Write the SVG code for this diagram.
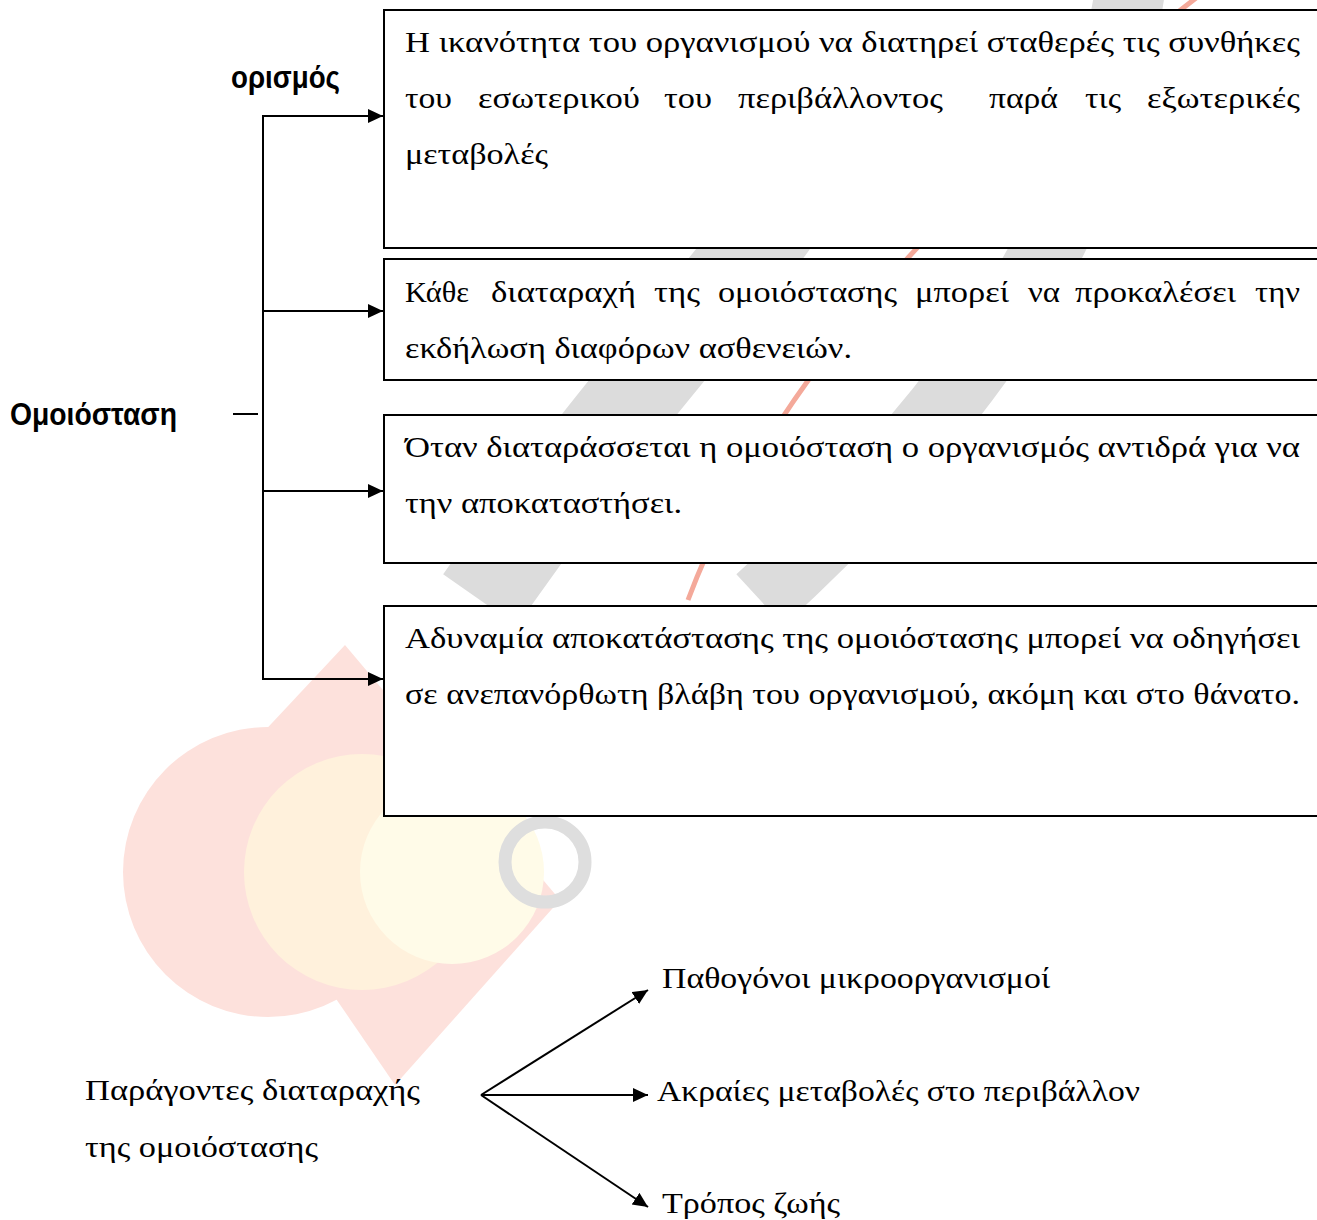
<svg xmlns="http://www.w3.org/2000/svg" width="1317" height="1220" viewBox="0 0 1317 1220">
<style>
.bx{fill:#fff;stroke:#000;stroke-width:2}
.t{font-family:"Liberation Serif","DejaVu Serif",serif;font-size:30px;fill:#000}
.h{font-family:"Liberation Sans","DejaVu Sans",sans-serif;font-size:31px;font-weight:bold;fill:#000}
.c{stroke:#000;stroke-width:2;fill:none}
</style>
<defs>
<marker id="ah" markerUnits="userSpaceOnUse" markerWidth="16" markerHeight="15" refX="15" refY="7" orient="auto">
<path d="M0,0 L15,7 L0,14 z" fill="#000"/>
</marker>
</defs>
<rect width="1317" height="1220" fill="#fff"/>
<g id="watermark">
<circle cx="268" cy="872" r="145" fill="#fde1dc"/>
<polygon points="345,645 560,900 395,1085 200,800" fill="#fde1dc"/>
<circle cx="362" cy="872" r="118" fill="#fff1dc"/>
<circle cx="452" cy="872" r="92" fill="#fffbe8"/>
<circle cx="545" cy="862" r="40" fill="none" stroke="#dedede" stroke-width="13"/>
<path d="M1130,-10 C1100,200 1000,380 760,600" fill="none" stroke="#dcdcdc" stroke-width="70"/>
<path d="M790,200 C720,300 620,400 480,600" fill="none" stroke="#dcdcdc" stroke-width="90"/>
<path d="M1200,-5 Q800,300 688,600" fill="none" stroke="#f4a99a" stroke-width="5"/>
</g>
<g id="connectors">
<line class="c" x1="233" y1="414" x2="258" y2="414"/>
<line class="c" x1="263" y1="115" x2="263" y2="680"/>
<line class="c" x1="262" y1="116" x2="383" y2="116" marker-end="url(#ah)"/>
<line class="c" x1="262" y1="311" x2="383" y2="311" marker-end="url(#ah)"/>
<line class="c" x1="262" y1="491" x2="383" y2="491" marker-end="url(#ah)"/>
<line class="c" x1="262" y1="679" x2="383" y2="679" marker-end="url(#ah)"/>
<line class="c" x1="481" y1="1095" x2="648" y2="990" marker-end="url(#ah)"/>
<line class="c" x1="481" y1="1095" x2="648" y2="1095" marker-end="url(#ah)"/>
<line class="c" x1="481" y1="1095" x2="648" y2="1207" marker-end="url(#ah)"/>
</g>
<g id="node-omoiostasi">
<text class="h" x="10" y="425" textLength="167" lengthAdjust="spacingAndGlyphs">Ομοιόσταση</text>
</g>
<g id="node-orismos">
<text class="h" x="231" y="88" textLength="109" lengthAdjust="spacingAndGlyphs">ορισμός</text>
</g>
<g id="node-box1">
<rect class="bx" x="384" y="10" width="960" height="238"/>
<text class="t" x="405" y="52" textLength="895" lengthAdjust="spacingAndGlyphs">Η ικανότητα του οργανισμού να διατηρεί σταθερές τις συνθήκες</text>
<text class="t" x="405" y="108" textLength="47" lengthAdjust="spacingAndGlyphs">του</text>
<text class="t" x="478" y="108" textLength="162" lengthAdjust="spacingAndGlyphs">εσωτερικού</text>
<text class="t" x="664" y="108" textLength="48" lengthAdjust="spacingAndGlyphs">του</text>
<text class="t" x="738" y="108" textLength="205" lengthAdjust="spacingAndGlyphs">περιβάλλοντος</text>
<text class="t" x="989" y="108" textLength="69" lengthAdjust="spacingAndGlyphs">παρά</text>
<text class="t" x="1085" y="108" textLength="36" lengthAdjust="spacingAndGlyphs">τις</text>
<text class="t" x="1147" y="108" textLength="153" lengthAdjust="spacingAndGlyphs">εξωτερικές</text>
<text class="t" x="405" y="164" textLength="143" lengthAdjust="spacingAndGlyphs">μεταβολές</text>
</g>
<g id="node-box2">
<rect class="bx" x="384" y="259" width="960" height="121"/>
<text class="t" x="405" y="302" textLength="64" lengthAdjust="spacingAndGlyphs">Κάθε</text>
<text class="t" x="491" y="302" textLength="145" lengthAdjust="spacingAndGlyphs">διαταραχή</text>
<text class="t" x="654" y="302" textLength="46" lengthAdjust="spacingAndGlyphs">της</text>
<text class="t" x="718" y="302" textLength="179" lengthAdjust="spacingAndGlyphs">ομοιόστασης</text>
<text class="t" x="915" y="302" textLength="94" lengthAdjust="spacingAndGlyphs">μπορεί</text>
<text class="t" x="1028" y="302" textLength="32" lengthAdjust="spacingAndGlyphs">να</text>
<text class="t" x="1075" y="302" textLength="161" lengthAdjust="spacingAndGlyphs">προκαλέσει</text>
<text class="t" x="1255" y="302" textLength="45" lengthAdjust="spacingAndGlyphs">την</text>
<text class="t" x="405" y="358" textLength="447" lengthAdjust="spacingAndGlyphs">εκδήλωση διαφόρων ασθενειών.</text>
</g>
<g id="node-box3">
<rect class="bx" x="384" y="415" width="960" height="148"/>
<text class="t" x="405" y="457" textLength="895" lengthAdjust="spacingAndGlyphs">Όταν διαταράσσεται η ομοιόσταση ο οργανισμός αντιδρά για να</text>
<text class="t" x="405" y="513" textLength="277" lengthAdjust="spacingAndGlyphs">την αποκαταστήσει.</text>
</g>
<g id="node-box4">
<rect class="bx" x="384" y="606" width="960" height="210"/>
<text class="t" x="405" y="648" textLength="895" lengthAdjust="spacingAndGlyphs">Αδυναμία αποκατάστασης της ομοιόστασης μπορεί να οδηγήσει</text>
<text class="t" x="405" y="704" textLength="895" lengthAdjust="spacingAndGlyphs">σε ανεπανόρθωτη βλάβη του οργανισμού, ακόμη και στο θάνατο.</text>
</g>
<g id="node-factors">
<text class="t" x="85" y="1100" textLength="335" lengthAdjust="spacingAndGlyphs">Παράγοντες διαταραχής</text>
<text class="t" x="85" y="1157" textLength="233" lengthAdjust="spacingAndGlyphs">της ομοιόστασης</text>
</g>
<g id="node-pathogens">
<text class="t" x="662" y="988" textLength="388" lengthAdjust="spacingAndGlyphs">Παθογόνοι μικροοργανισμοί</text>
</g>
<g id="node-environment">
<text class="t" x="657" y="1101" textLength="483" lengthAdjust="spacingAndGlyphs">Ακραίες μεταβολές στο περιβάλλον</text>
</g>
<g id="node-lifestyle">
<text class="t" x="662" y="1213" textLength="178" lengthAdjust="spacingAndGlyphs">Τρόπος ζωής</text>
</g>
</svg>
